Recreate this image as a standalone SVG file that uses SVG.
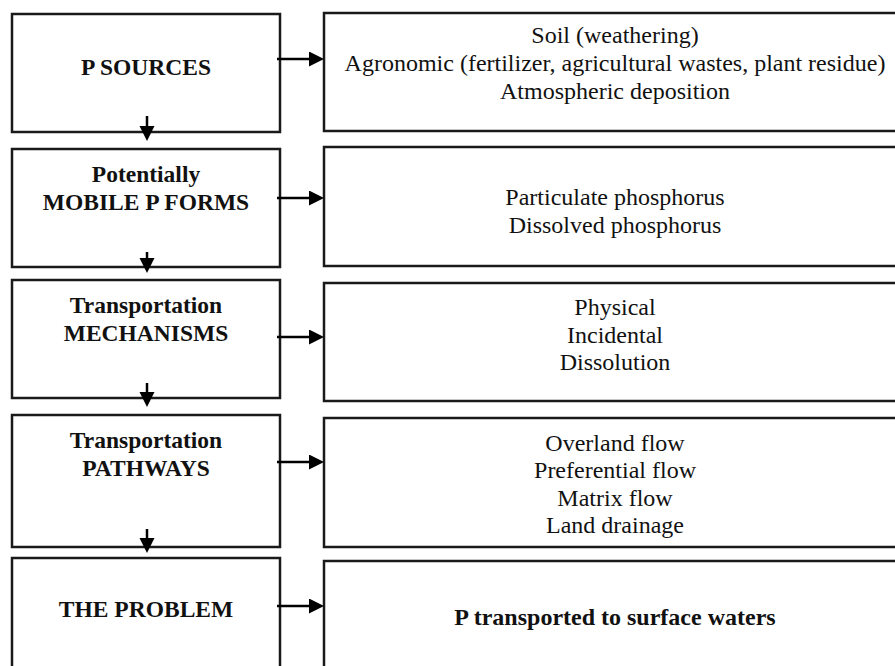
<svg xmlns="http://www.w3.org/2000/svg" width="895" height="666" viewBox="0 0 895 666">
<style>
.box{fill:#fff;stroke:#1a1a1a;stroke-width:2.5}
.h{font-family:"Liberation Serif","Times New Roman",serif;font-weight:bold;font-size:23.5px;fill:#111;text-anchor:middle}
.t{font-family:"Liberation Serif","Times New Roman",serif;font-size:24px;fill:#111;text-anchor:middle}
.tb{font-family:"Liberation Serif","Times New Roman",serif;font-weight:bold;font-size:24px;fill:#111;text-anchor:middle}
.c{fill:none;stroke:#000;stroke-width:2.5;marker-end:url(#ah)}
</style>
<defs>
<marker id="ah" markerUnits="userSpaceOnUse" markerWidth="16" markerHeight="16" refX="0" refY="7.5" orient="auto">
<path d="M0,0 L15,7.5 L0,15 z" fill="#000"/>
</marker>
</defs>
<rect width="895" height="666" fill="#fff"/>
<g id="sources">
<rect class="box" x="12" y="14" width="268" height="118"/>
<text class="h" x="146" y="75">P SOURCES</text>
</g>
<g id="sources-detail">
<rect class="box" x="324" y="13" width="590" height="118"/>
<text class="t" x="615" y="43">Soil (weathering)</text>
<text class="t" x="615" y="71">Agronomic (fertilizer, agricultural wastes, plant residue)</text>
<text class="t" x="615" y="99">Atmospheric deposition</text>
</g>
<g id="forms">
<rect class="box" x="12" y="149" width="268" height="118"/>
<text class="h" x="146" y="182">Potentially</text>
<text class="h" x="146" y="210">MOBILE P FORMS</text>
</g>
<g id="forms-detail">
<rect class="box" x="324" y="147" width="590" height="119"/>
<text class="t" x="615" y="205">Particulate phosphorus</text>
<text class="t" x="615" y="233">Dissolved phosphorus</text>
</g>
<g id="mechanisms">
<rect class="box" x="12" y="280" width="268" height="118"/>
<text class="h" x="146" y="313">Transportation</text>
<text class="h" x="146" y="341">MECHANISMS</text>
</g>
<g id="mechanisms-detail">
<rect class="box" x="324" y="283" width="590" height="118"/>
<text class="t" x="615" y="315">Physical</text>
<text class="t" x="615" y="343">Incidental</text>
<text class="t" x="615" y="370">Dissolution</text>
</g>
<g id="pathways">
<rect class="box" x="12" y="415" width="268" height="132"/>
<text class="h" x="146" y="448">Transportation</text>
<text class="h" x="146" y="476">PATHWAYS</text>
</g>
<g id="pathways-detail">
<rect class="box" x="324" y="418" width="590" height="129"/>
<text class="t" x="615" y="451">Overland flow</text>
<text class="t" x="615" y="478">Preferential flow</text>
<text class="t" x="615" y="506">Matrix flow</text>
<text class="t" x="615" y="533">Land drainage</text>
</g>
<g id="problem">
<rect class="box" x="12" y="558" width="268" height="140"/>
<text class="h" x="146" y="617">THE PROBLEM</text>
</g>
<g id="problem-detail">
<rect class="box" x="324" y="561" width="590" height="140"/>
<text class="tb" x="615" y="625">P transported to surface waters</text>
</g>
<g id="connectors">
<path class="c" d="M277,59 H309"/>
<path class="c" d="M277,198 H309"/>
<path class="c" d="M277,337 H309"/>
<path class="c" d="M277,462 H309"/>
<path class="c" d="M277,606 H309"/>
<path class="c" d="M147,116 V126"/>
<path class="c" d="M147,252 V258"/>
<path class="c" d="M147,383 V392"/>
<path class="c" d="M147,529 V538"/>
</g>
</svg>
